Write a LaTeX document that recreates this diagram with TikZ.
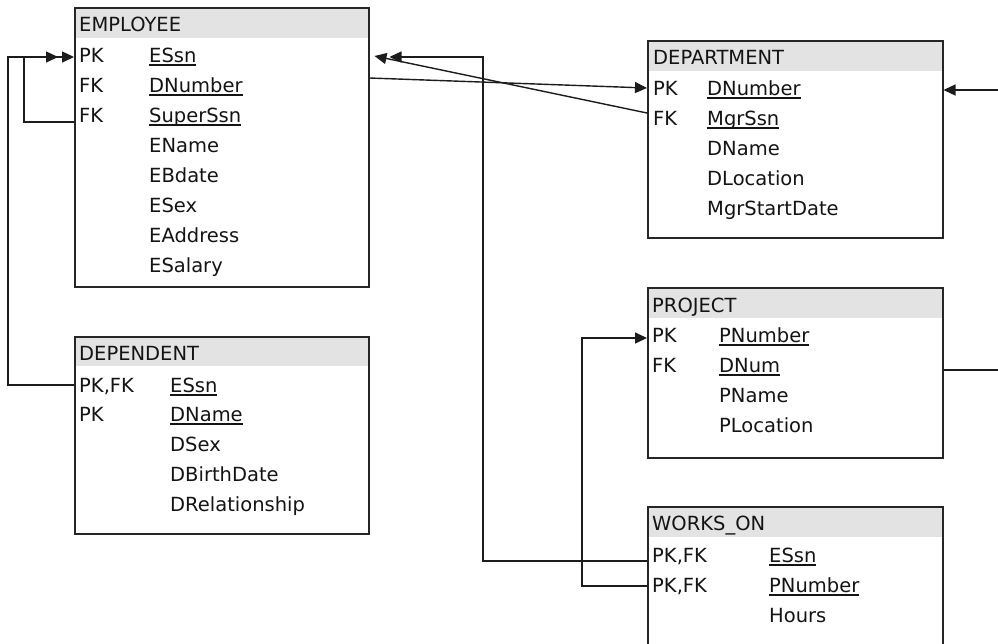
\documentclass[tikz,border=0pt]{standalone}
\usepackage{fontspec}
\setmainfont{DejaVu Sans}
\usetikzlibrary{calc,arrows.meta}

\definecolor{headgray}{HTML}{E3E3E3}
\definecolor{boxline}{HTML}{262626}
\definecolor{linkcol}{HTML}{1C1C1C}
\definecolor{txt}{HTML}{141414}

% key attributes: underline at a fixed depth below the baseline
\newcommand\keyfield[1]{\setbox0=\hbox{#1}\rlap{\vrule height -2.2pt depth 3.7pt width \wd0}\box0}

\tikzset{
  tablebox/.style={draw=boxline, line width=1.5pt, rectangle, anchor=north west, inner sep=0pt},
  tablehead/.style={fill=headgray, rectangle, anchor=north west, inner sep=0pt},
  title/.style={anchor=base west, inner sep=0pt, text=txt},
  cell/.style={anchor=base west, inner sep=0pt, text=txt},
  link/.style={draw=linkcol, line width=1.4pt},
  tip/.style={-{Triangle[length=12pt,width=11pt]}},
}

\begin{document}
\begin{tikzpicture}[x=1pt,y=-1pt,font=\fontsize{19.5}{23}\selectfont]
\useasboundingbox (0,0) rectangle (998,643);
\fill[white] (0,0) rectangle (998,643);
\clip (0,0) rectangle (998,643);

% routing columns for the connectors
\coordinate (busA) at (24,0);
\coordinate (busB) at (8,0);
\coordinate (busC) at (483,0);
\coordinate (busD) at (582,0);
\coordinate (busE) at (1020,0);

% ---------------- EMPLOYEE ----------------
\node[tablehead, minimum width=294pt, minimum height=31pt] (emp-h) at (74,7) {};
\node[tablebox, minimum width=294pt, minimum height=279pt] (emp) at (74,7) {};
\node[title] (emp-t) at (79,31) {EMPLOYEE};
\node[cell] (emp-k1) at (79,62) {PK};
\node[cell] (emp-f1) at (149,62) {\keyfield{ESsn}};
\node[cell] (emp-k2) at (79,92) {FK};
\node[cell] (emp-f2) at (149,92) {\keyfield{DNumber}};
\node[cell] (emp-k3) at (79,122) {FK};
\node[cell] (emp-f3) at (149,122) {\keyfield{SuperSsn}};
\node[cell] (emp-f4) at (149,152) {EName};
\node[cell] (emp-f5) at (149,182) {EBdate};
\node[cell] (emp-f6) at (149,212) {ESex};
\node[cell] (emp-f7) at (149,242) {EAddress};
\node[cell] (emp-f8) at (149,272) {ESalary};

% ---------------- DEPARTMENT ----------------
\node[tablehead, minimum width=295pt, minimum height=31pt] (dept-h) at (647,40) {};
\node[tablebox, minimum width=295pt, minimum height=197pt] (dept) at (647,40) {};
\node[title] (dept-t) at (653,64) {DEPARTMENT};
\node[cell] (dept-k1) at (653,95) {PK};
\node[cell] (dept-f1) at (707,95) {\keyfield{DNumber}};
\node[cell] (dept-k2) at (653,125) {FK};
\node[cell] (dept-f2) at (707,125) {\keyfield{MgrSsn}};
\node[cell] (dept-f3) at (707,155) {DName};
\node[cell] (dept-f4) at (707,185) {DLocation};
\node[cell] (dept-f5) at (707,215) {MgrStartDate};

% ---------------- DEPENDENT ----------------
\node[tablehead, minimum width=294pt, minimum height=30pt] (depd-h) at (74,336) {};
\node[tablebox, minimum width=294pt, minimum height=197pt] (depd) at (74,336) {};
\node[title] (depd-t) at (79,360) {DEPENDENT};
\node[cell] (depd-k1) at (79,392) {PK,FK};
\node[cell] (depd-f1) at (170,392) {\keyfield{ESsn}};
\node[cell] (depd-k2) at (79,421) {PK};
\node[cell] (depd-f2) at (170,421) {\keyfield{DName}};
\node[cell] (depd-f3) at (170,451) {DSex};
\node[cell] (depd-f4) at (170,481) {DBirthDate};
\node[cell] (depd-f5) at (170,511) {DRelationship};

% ---------------- PROJECT ----------------
\node[tablehead, minimum width=295pt, minimum height=31pt] (proj-h) at (647,287) {};
\node[tablebox, minimum width=295pt, minimum height=170pt] (proj) at (647,287) {};
\node[title] (proj-t) at (652,312) {PROJECT};
\node[cell] (proj-k1) at (652,342) {PK};
\node[cell] (proj-f1) at (719,342) {\keyfield{PNumber}};
\node[cell] (proj-k2) at (652,372) {FK};
\node[cell] (proj-f2) at (719,372) {\keyfield{DNum}};
\node[cell] (proj-f3) at (719,402) {PName};
\node[cell] (proj-f4) at (719,432) {PLocation};

% ---------------- WORKS_ON ----------------
\node[tablehead, minimum width=295pt, minimum height=31pt] (wo-h) at (647,506) {};
\node[tablebox, minimum width=295pt, minimum height=160pt] (wo) at (647,506) {};
\node[title] (wo-t) at (652,530) {WORKS\_ON};
\node[cell] (wo-k1) at (652,562) {PK,FK};
\node[cell] (wo-f1) at (769,562) {\keyfield{ESsn}};
\node[cell] (wo-k2) at (652,592) {PK,FK};
\node[cell] (wo-f2) at (769,592) {\keyfield{PNumber}};
\node[cell] (wo-f3) at (769,622) {Hours};

% attachment points on the table borders
\coordinate (empInL)  at ($(emp.west|-emp-f1.base)+(0,-5)$);
\coordinate (empInR)  at ($(emp.east|-emp-f1.base)+(0,-5)$);
\coordinate (deptInL) at ($(dept.west|-dept-f1.base)+(0,-7)$);
\coordinate (deptInR) at ($(dept.east|-dept-f1.base)+(0,-5)$);
\coordinate (projIn)  at ($(proj.west|-proj-f1.base)+(0,-4)$);

% ---------------- relationships ----------------
% EMPLOYEE.SuperSsn -> EMPLOYEE.ESsn
\draw[link,tip] (emp.west|-emp-f3.base) -| (busA|-empInL) -- ($(empInL)+(-16,0)$);
% DEPENDENT.ESsn -> EMPLOYEE.ESsn
\draw[link,tip] ($(depd.west|-depd-f1.base)+(0,-7)$) -| (busB|-empInL) -- (empInL);
% EMPLOYEE.DNumber -> DEPARTMENT.DNumber
\draw[link,tip] ($(emp.east|-emp-f2.base)+(0,-14)$) -- (deptInL);
% DEPARTMENT.MgrSsn -> EMPLOYEE.ESsn
\draw[link,tip] ($(dept.west|-dept-f2.base)+(0,-12)$) -- ($(empInR)+(5,-1)$);
% WORKS_ON.ESsn -> EMPLOYEE.ESsn
\draw[link,tip] ($(wo.west|-wo-f1.base)+(0,-1)$) -| (busC|-empInR) -- ($(empInR)+(20,0)$);
% WORKS_ON.PNumber -> PROJECT.PNumber
\draw[link,tip] ($(wo.west|-wo-f2.base)+(0,-6)$) -| (busD|-projIn) -- (projIn);
% PROJECT.DNum -> DEPARTMENT.DNumber
\draw[link,tip] ($(proj.east|-proj-f2.base)+(0,-2)$) -| (busE|-deptInR) -- (deptInR);
\end{tikzpicture}
\end{document}
